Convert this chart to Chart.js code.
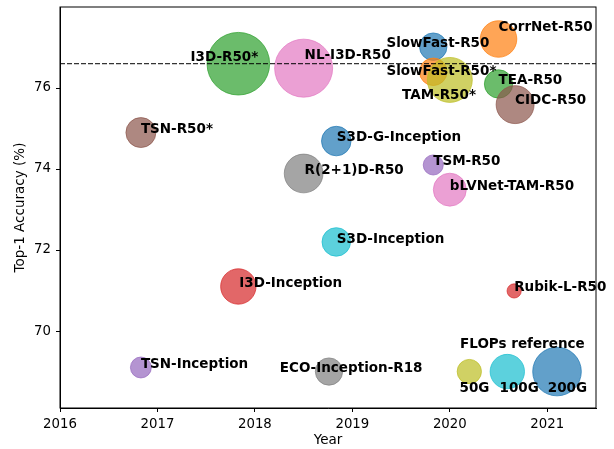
<!DOCTYPE html>
<html>
<head>
<meta charset="utf-8">
<script src="https://cdn.jsdelivr.net/npm/chart.js@4/dist/chart.umd.min.js"></script>
<style>
  html, body { margin: 0; padding: 0; background: #fff; }
  #wrap { width: 614px; height: 449px; }
</style>
</head>
<body>
<div id="wrap"><canvas id="acc"></canvas></div>
<script>
// models, release year, top-1 accuracy and GFLOPs (bubble area)
const models = ['I3D-R50*', 'NL-I3D-R50', 'SlowFast-R50', 'CorrNet-R50', 'SlowFast-R50*', 'TAM-R50*',
  'TEA-R50', 'CIDC-R50', 'TSN-R50*', 'S3D-G-Inception', 'R(2+1)D-R50', 'TSM-R50', 'bLVNet-TAM-R50',
  'S3D-Inception', 'I3D-Inception', 'Rubik-L-R50', 'TSN-Inception', 'ECO-Inception-R18',
  '50G', '100G', '200G'];
const years = [2017.83, 2018.50, 2019.83, 2020.50, 2019.83, 2020.0,
  2020.50, 2020.67, 2016.83, 2018.835, 2018.50, 2019.83, 2020.0,
  2018.835, 2017.83, 2020.66, 2016.83, 2018.76,
  2020.20, 2020.59, 2021.10];
const top1 = [76.60, 76.49, 77.02, 77.21, 76.40, 76.20,
  76.10, 75.59, 74.90, 74.69, 73.89, 74.10, 73.49,
  72.20, 71.10, 70.99, 69.10, 69.00,
  69.0, 69.0, 69.0];
const gflops = [332, 285, 64, 113, 64, 171,
  68, 122, 76, 74, 127, 34, 92,
  69, 106, 17, 37, 63,
  50, 100, 200];
const colors = ['#2ca02c', '#e377c2', '#1f77b4', '#ff7f0e', '#ff7f0e', '#bcbd22',
  '#2ca02c', '#8c564b', '#8c564b', '#1f77b4', '#7f7f7f', '#9467bd', '#e377c2',
  '#17becf', '#d62728', '#d62728', '#9467bd', '#7f7f7f',
  '#bcbd22', '#17becf', '#1f77b4'];

const xTicks = [2016, 2017, 2018, 2019, 2020, 2021];
const yTicks = [70, 72, 74, 76];
const baseline = 76.6;

// text labels: [text, year, accuracy] of left edge / middle of capitals
const labels = [
  ['I3D-R50*', 2017.34, 76.80], ['NL-I3D-R50', 2018.51, 76.85],
  ['SlowFast-R50', 2019.35, 77.13], ['CorrNet-R50', 2020.50, 77.52],
  ['SlowFast-R50*', 2019.35, 76.44], ['TAM-R50*', 2019.51, 75.84],
  ['TEA-R50', 2020.50, 76.23], ['CIDC-R50', 2020.67, 75.72],
  ['TSN-R50*', 2016.83, 75.01], ['S3D-G-Inception', 2018.84, 74.81],
  ['R(2+1)D-R50', 2018.51, 74.00], ['TSM-R50', 2019.83, 74.21],
  ['bLVNet-TAM-R50', 2020.00, 73.61], ['S3D-Inception', 2018.84, 72.30],
  ['I3D-Inception', 2017.84, 71.22], ['Rubik-L-R50', 2020.66, 71.11],
  ['TSN-Inception', 2016.83, 69.22], ['ECO-Inception-R18', 2018.255, 69.12],
  ['FLOPs reference', 2020.105, 69.71],
  ['50G', 2020.10, 68.61], ['100G', 2020.51, 68.61], ['200G', 2021.005, 68.61]
];

const rgba = (hex, a) => {
  const n = parseInt(hex.slice(1), 16);
  return `rgba(${n >> 16}, ${(n >> 8) & 255}, ${n & 255}, ${a})`;
};
const radius = g => 24.3 * Math.sqrt(g / 200);

const textPlugin = {
  id: 'textLabels',
  afterDatasetsDraw(chart) {
    const { ctx, scales: { x, y }, chartArea } = chart;
    const size = 13.5;
    ctx.save();
    ctx.fillStyle = '#000';
    ctx.font = `bold ${size}px "DejaVu Sans"`;
    ctx.textAlign = 'left';
    ctx.textBaseline = 'alphabetic';
    // shift from cap middle down to the baseline
    labels.forEach(([t, lx, ly]) => ctx.fillText(t, x.getPixelForValue(lx), y.getPixelForValue(ly) + size * 0.365));
    ctx.strokeStyle = '#000';
    ctx.lineWidth = 1;
    ctx.strokeRect(chartArea.left, chartArea.top, chartArea.right - chartArea.left, chartArea.bottom - chartArea.top);
    ctx.restore();
  }
};

Chart.defaults.font.family = '"DejaVu Sans"';
Chart.defaults.color = '#000';

new Chart(document.getElementById('acc'), {
  data: {
    datasets: [
      {
        type: 'line',
        order: 0,
        data: [{ x: 2016, y: baseline }, { x: 2021.5, y: baseline }],
        borderColor: '#000',
        borderWidth: 1,
        borderDash: [5, 2],
        pointRadius: 0
      },
      {
        type: 'bubble',
        order: 1,
        data: models.map((m, i) => ({ x: years[i], y: top1[i], r: radius(gflops[i]) })),
        backgroundColor: colors.map(c => rgba(c, 0.7)),
        borderColor: colors.map(c => rgba(c, 0.7)),
        borderWidth: 1
      }
    ]
  },
  options: {
    responsive: true,
    maintainAspectRatio: false,
    animation: false,
    layout: { autoPadding: false, padding: { left: 0, right: 18, top: 7, bottom: 0 } },
    plugins: {
      legend: { display: false },
      tooltip: { enabled: false }
    },
    scales: {
      x: {
        type: 'linear',
        min: 2016,
        max: 2021.5,
        afterBuildTicks: s => { s.ticks = xTicks.map(v => ({ value: v })); },
        afterFit: s => { s.height = 41; s.paddingLeft = 0; s.paddingRight = 0; },
        ticks: { font: { size: 13.3 }, padding: 5, maxRotation: 0, callback: v => String(v) },
        grid: { drawOnChartArea: false, drawTicks: true, tickLength: 4, tickColor: '#000' },
        border: { display: true, color: '#000' },
        title: { display: true, text: 'Year', font: { size: 13.5 }, padding: { top: 0, bottom: 0 } }
      },
      y: {
        type: 'linear',
        min: 68.1,
        max: 78,
        afterBuildTicks: s => { s.ticks = yTicks.map(v => ({ value: v })); },
        afterFit: s => { s.width = 60; s.paddingTop = 0; s.paddingBottom = 0; },
        ticks: { font: { size: 13.3 }, padding: 5, callback: v => String(v) },
        grid: { drawOnChartArea: false, drawTicks: true, tickLength: 4, tickColor: '#000' },
        border: { display: true, color: '#000' },
        title: { display: true, text: 'Top-1 Accuracy (%)', font: { size: 13.5 }, padding: { top: 12, bottom: 0 } }
      }
    }
  },
  plugins: [textPlugin]
});
</script>
</body>
</html>
